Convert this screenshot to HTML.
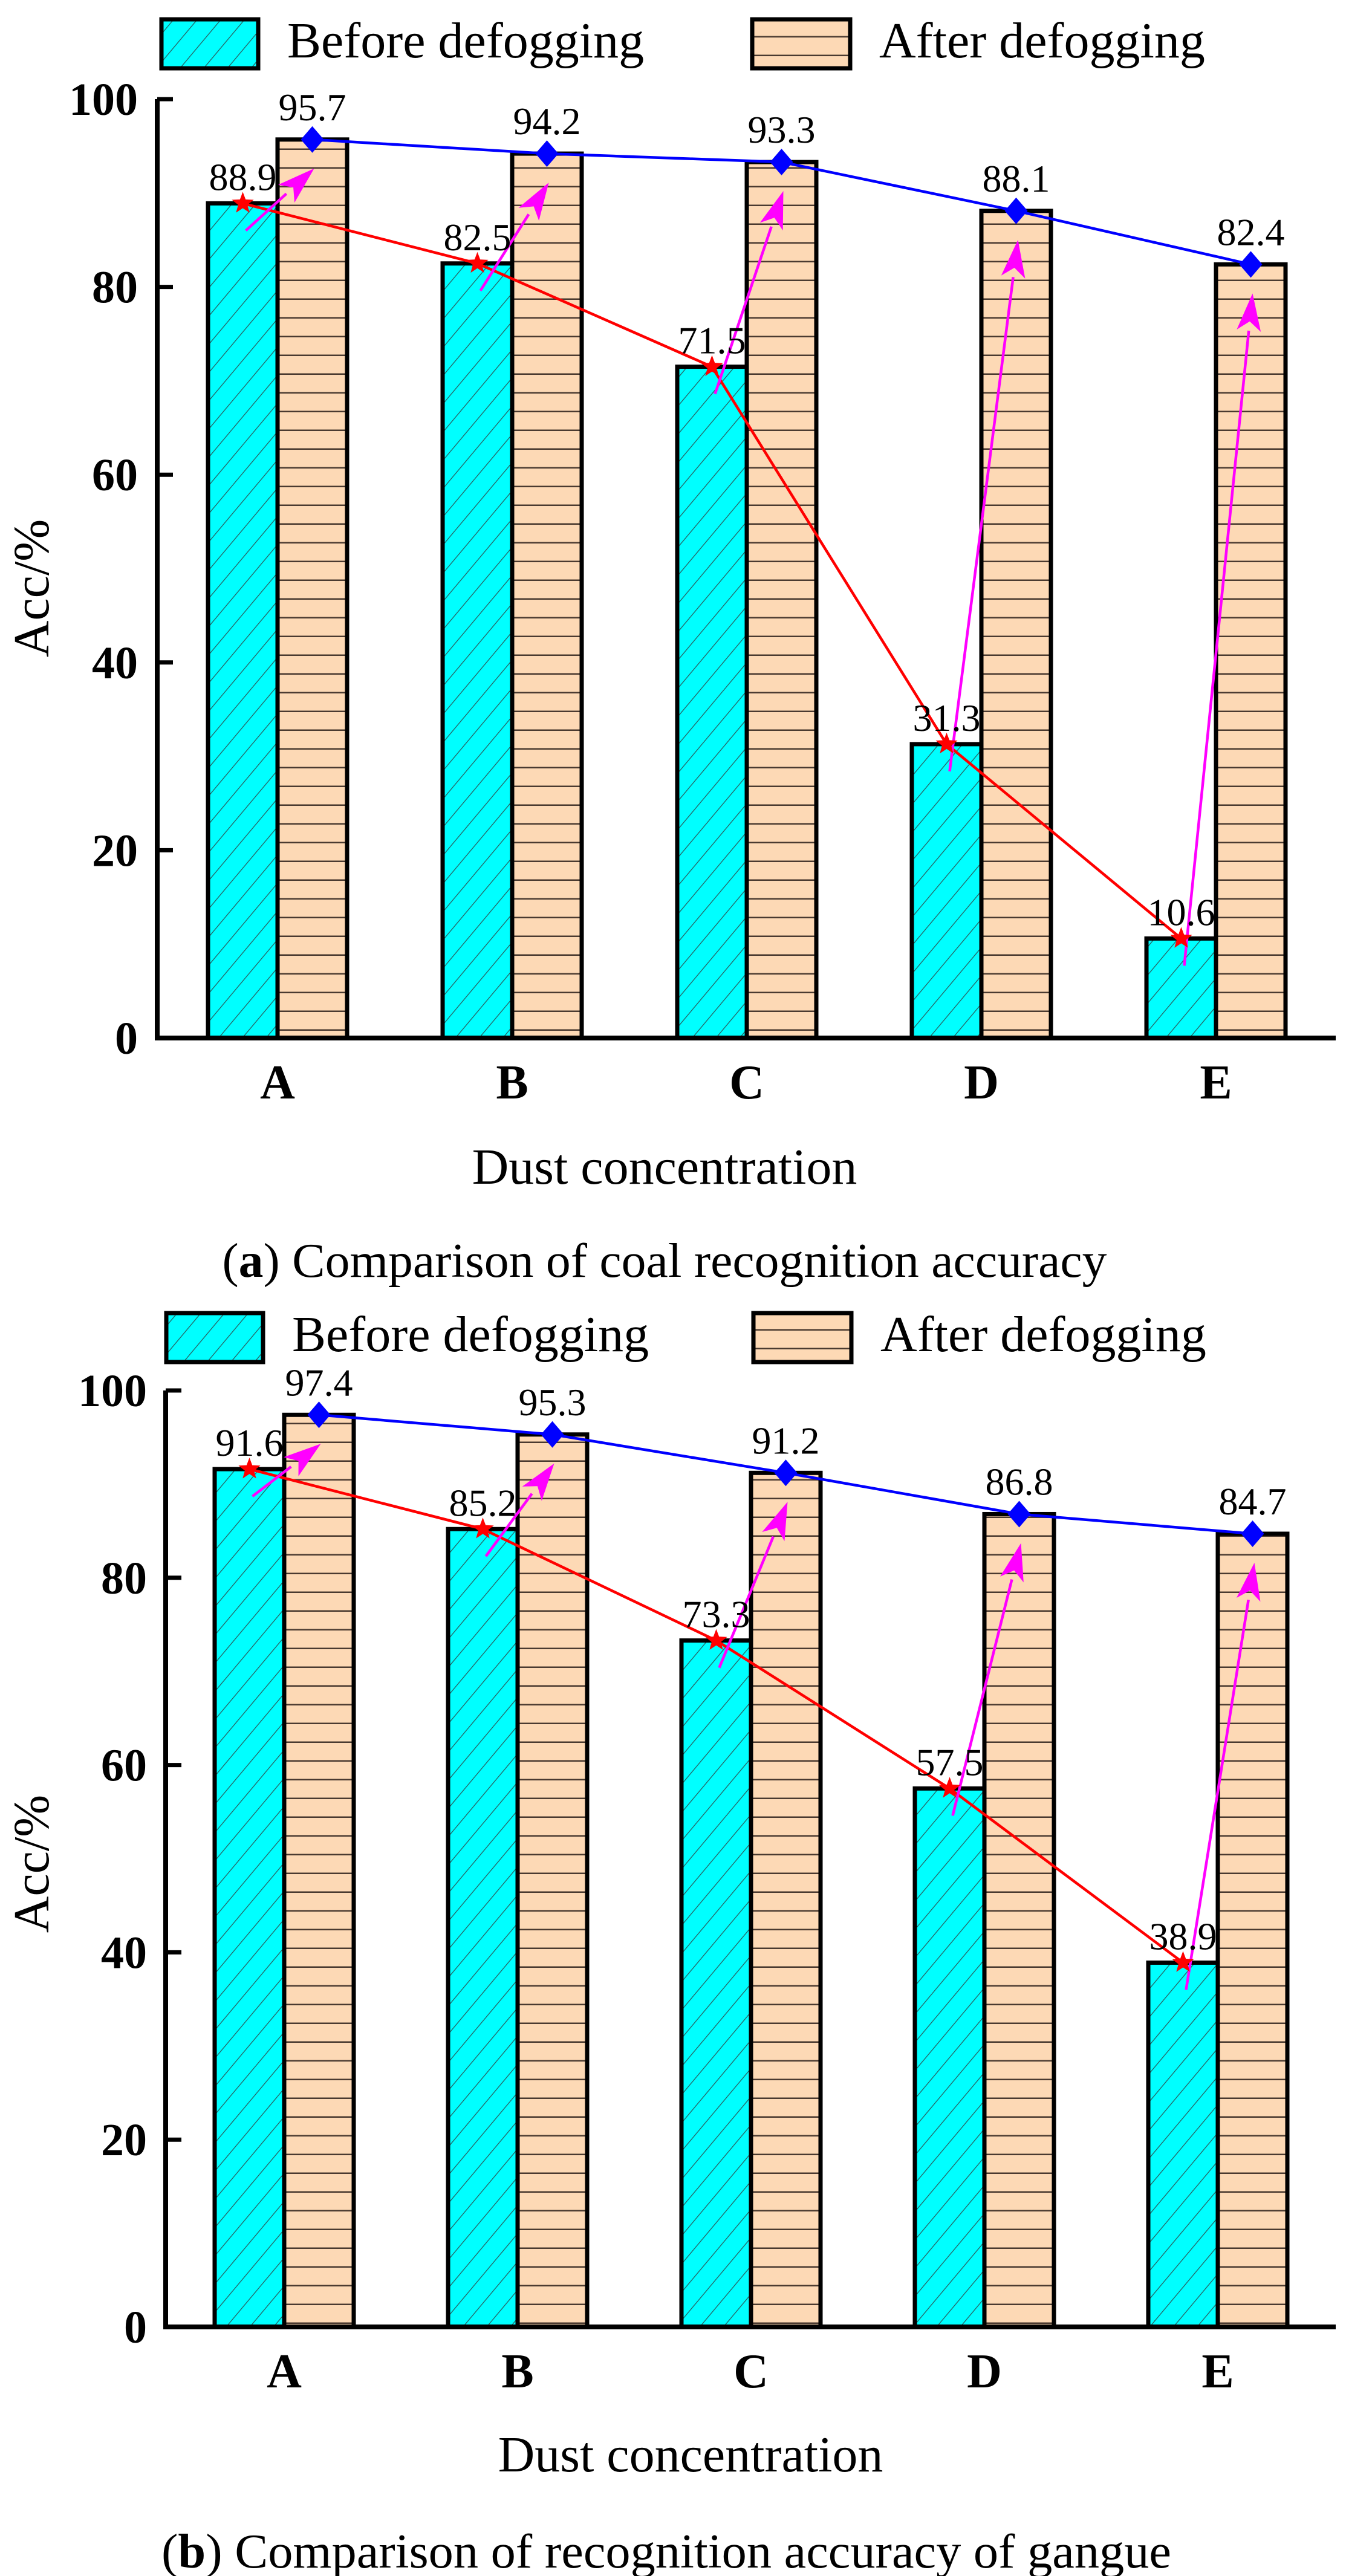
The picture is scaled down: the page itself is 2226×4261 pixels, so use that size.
<!DOCTYPE html>
<html><head><meta charset="utf-8"><style>
html,body{margin:0;padding:0;background:#fff;}
svg{display:block;font-family:"Liberation Serif",serif;}
</style></head><body>
<svg id="s" width="2226" height="4261" viewBox="0 0 2226 4261" xmlns="http://www.w3.org/2000/svg">
<defs>
<pattern id="hatchC" patternUnits="userSpaceOnUse" width="30" height="30" patternTransform="rotate(40)">
<rect width="30" height="30" fill="#00FFFF"/><line x1="0" y1="0" x2="0" y2="30" stroke="#2a5a5a" stroke-width="2.5"/></pattern>
<pattern id="hatchO" patternUnits="userSpaceOnUse" width="30" height="31">
<rect width="30" height="31" fill="#FDD9B5"/><line x1="0" y1="30" x2="30" y2="30" stroke="#4a3a30" stroke-width="3"/></pattern>
</defs>
</svg>
<script>
const categories=["A","B","C","D","E"];
const yTicks=[0,20,40,60,80,100];
const beforeA=[88.9,82.5,71.5,31.3,10.6];
const afterA=[95.7,94.2,93.3,88.1,82.4];
const beforeB=[91.6,85.2,73.3,57.5,38.9];
const afterB=[97.4,95.3,91.2,86.8,84.7];
const NS="http://www.w3.org/2000/svg";
const svg=document.getElementById('s');
function mk(tag,attrs,parent,text){const e=document.createElementNS(NS,tag);for(const k in attrs)e.setAttribute(k,attrs[k]);if(text!==undefined)e.textContent=text;(parent||svg).appendChild(e);return e;}
function starPts(cx,cy,R,r){let p=[];for(let i=0;i<10;i++){const a=-Math.PI/2+i*Math.PI/5;const rr=i%2?r:R;p.push((cx+rr*Math.cos(a)).toFixed(1)+","+(cy+rr*Math.sin(a)).toFixed(1));}return p.join(" ");}
function chart(cfg,before,after,id){
  const g=mk('g',{});
  
  
  const y=v=>cfg.y0-(v/100)*(cfg.y0-cfg.y100);
  const xc=i=>cfg.cx0+i*cfg.step;
  const bw=115;
  // legend
  const l1=mk('rect',{x:cfg.lx1,y:cfg.ly,width:160,height:81,fill:'url(#hatchC)',stroke:'#000','stroke-width':7},g);
  
  
  const t1=mk('text',{x:cfg.lx1+208,y:cfg.ly+63,'font-size':84},g,'Before defogging');
  
  
  const l2=mk('rect',{x:cfg.lx2,y:cfg.ly,width:162,height:81,fill:'url(#hatchO)',stroke:'#000','stroke-width':7},g);
  
  
  const t2=mk('text',{x:cfg.lx2+210,y:cfg.ly+63,'font-size':84},g,'After defogging');
  
  
  // bars
  categories.forEach((c,i)=>{
    const b1=mk('rect',{x:xc(i)-bw,y:y(before[i]),width:bw,height:cfg.y0-y(before[i]),fill:'url(#hatchC)',stroke:'#000','stroke-width':7},g);
    
    
    const b2=mk('rect',{x:xc(i),y:y(after[i]),width:bw,height:cfg.y0-y(after[i]),fill:'url(#hatchO)',stroke:'#000','stroke-width':7},g);
    
    
  });
  // axes
  const ax=mk('path',{d:`M${cfg.ax},${y(100)} V${cfg.y0} H${cfg.xend}`,fill:'none',stroke:'#000','stroke-width':8},g);
  
  
  yTicks.forEach(t=>{
    mk('line',{x1:cfg.ax,x2:cfg.ax+26,y1:y(t),y2:y(t),stroke:'#000','stroke-width':7},g);
    const tl=mk('text',{x:cfg.tickR,y:y(t)+26,'font-size':76,'font-weight':'bold','text-anchor':'end'},g,String(t));
    
    
  });
  categories.forEach((c,i)=>{
    const cl=mk('text',{x:xc(i),y:cfg.y0+100,'font-size':80,'font-weight':'bold','text-anchor':'middle'},g,c);
    
    
  });
  // lines
  const redP=before.map((v,i)=>(xc(i)-bw/2)+','+y(v)).join(' ');
  const rl=mk('polyline',{points:redP,fill:'none',stroke:'#ff0000','stroke-width':4.5},g);
  
  
  const blueP=after.map((v,i)=>(xc(i)+bw/2)+','+y(v)).join(' ');
  const bl=mk('polyline',{points:blueP,fill:'none',stroke:'#0000ff','stroke-width':4.5},g);
  
  
  categories.forEach((c,i)=>{
    const sx=xc(i)-bw/2, sy=y(before[i]);
    const ox=xc(i)+bw/2, oy=y(after[i]);
    // arrow
    const x1=sx+5,y1=sy+45,x2=ox+3,y2=oy+48;
    const dx=x2-x1,dy=y2-y1,L=Math.hypot(dx,dy),ux=dx/L,uy=dy/L;
    const hl=62,hw=20;
    const bx=x2-ux*hl,by=y2-uy*hl;
    const ar=mk('g',{},g);
    
    
    mk('line',{x1:x1,y1:y1,x2:bx,y2:by,stroke:'#ff00ff','stroke-width':4.5},ar);
    mk('polygon',{points:`${x2},${y2} ${bx-uy*hw},${by+ux*hw} ${x2-ux*hl*0.75},${y2-uy*hl*0.75} ${bx+uy*hw},${by-ux*hw}`,fill:'#ff00ff'},ar);
    const st=mk('polygon',{points:starPts(sx,sy,19,8),fill:'#ff0000'},g);
    
    
    const dm=mk('polygon',{points:`${ox},${oy-22} ${ox+19},${oy} ${ox},${oy+22} ${ox-19},${oy}`,fill:'#0000ff'},g);
    
    
    const v1=mk('text',{x:sx,y:sy-22,'font-size':64,'text-anchor':'middle'},g,before[i].toFixed(1));
    
    
    const v2=mk('text',{x:ox,y:oy-32,'font-size':64,'text-anchor':'middle'},g,after[i].toFixed(1));
    
    
  });
  const yt=mk('text',{x:0,y:0,'font-size':84,'text-anchor':'middle',transform:`translate(${cfg.ytx},${cfg.yty}) rotate(-90)`},g,'Acc/%');
  
  
  const xt=mk('text',{x:cfg.xtx,y:cfg.xty,'font-size':84,'text-anchor':'middle'},g,'Dust concentration');
  
  
  const cap=mk('text',{x:cfg.capx,y:cfg.capy,'font-size':80,'text-anchor':'middle',textLength:cfg.capw,lengthAdjust:'spacingAndGlyphs'},g);
  
  
  mk('tspan',{},cap,'(');
  mk('tspan',{'font-weight':'bold'},cap,id);
  mk('tspan',{},cap,') '+cfg.caption);
}
chart({y0:1717,y100:164,ax:260,xend:2209,cx0:459,step:388,tickR:228,lx1:267,lx2:1244,ly:32,
  ytx:80,yty:973,xtx:1099,xty:1958,capx:1099,capy:2112,capw:1463,caption:'Comparison of coal recognition accuracy'},beforeA,afterA,'a');
chart({y0:3849,y100:2300,ax:274,xend:2209,cx0:470,step:386,tickR:243,lx1:275,lx2:1246,ly:2172,
  ytx:80,yty:3083,xtx:1142,xty:4088,capx:1102,capy:4247,capw:1670,caption:'Comparison of recognition accuracy of gangue'},beforeB,afterB,'b');
</script>
</body></html>
